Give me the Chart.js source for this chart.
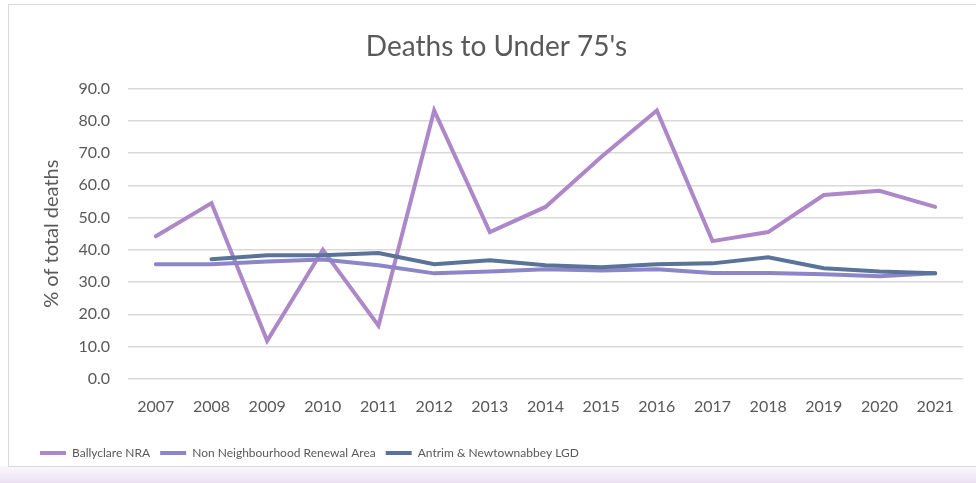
<!DOCTYPE html>
<html>
<head>
<meta charset="utf-8">
<script src="https://cdn.jsdelivr.net/npm/chart.js@4/dist/chart.umd.min.js"></script>
<style>
  html, body { margin: 0; padding: 0; background: #fff; }
  body { width: 976px; height: 483px; position: relative; overflow: hidden; }
  #frame {
    position: absolute; left: 8px; top: 4px; width: 980px; height: 461px;
    border: 1px solid #d9d9d9; background: #fff;
  }
  #shade {
    position: absolute; left: 0; top: 466px; width: 976px; height: 17px;
    background: linear-gradient(#fbf8fd, #ece1f3);
  }
  #wrap { position: absolute; left: 0; top: 0; width: 976px; height: 483px; }
</style>
</head>
<body>
<div id="shade"></div>
<div id="frame"></div>
<div id="wrap"><canvas id="myChart" width="976" height="483"></canvas></div>
<script>
var years = ['2007', '2008', '2009', '2010', '2011', '2012', '2013', '2014', '2015', '2016', '2017', '2018', '2019', '2020', '2021'];
var ballyclare = [44.2, 54.5, 11.8, 40.0, 16.5, 83.2, 45.5, 53.3, 68.8, 83.2, 42.7, 45.5, 57.0, 58.3, 53.3];
var nonNRA = [35.5, 35.5, 36.4, 37.0, 35.2, 32.7, 33.3, 34.0, 33.6, 34.0, 32.8, 32.8, 32.4, 31.8, 32.7];
var lgd = [null, 37.1, 38.3, 38.3, 39.0, 35.5, 36.8, 35.2, 34.6, 35.5, 35.8, 37.7, 34.3, 33.3, 32.7];

var textCol = '#595959';
var fontFam = 'Lato, "Noto Sans", sans-serif';

var ctx = document.getElementById('myChart');
var myChart = new Chart(ctx, {
  type: 'line',
  data: {
    labels: years,
    datasets: [{
      label: 'Ballyclare NRA',
      data: ballyclare,
      borderColor: '#ad87c8',
      backgroundColor: '#ad87c8',
      borderWidth: 4,
      pointRadius: 0,
      borderCapStyle: 'round',
      order: 3
    }, {
      label: 'Non Neighbourhood Renewal Area',
      data: nonNRA,
      borderColor: '#8c86c8',
      backgroundColor: '#8c86c8',
      borderWidth: 4,
      pointRadius: 0,
      borderCapStyle: 'round',
      order: 2
    }, {
      label: 'Antrim & Newtownabbey LGD',
      data: lgd,
      borderColor: '#5a7398',
      backgroundColor: '#5a7398',
      borderWidth: 4,
      pointRadius: 0,
      borderCapStyle: 'round',
      order: 1
    }]
  },
  options: {
    responsive: false,
    animation: false,
    layout: { padding: { left: 30, right: 13, top: 30, bottom: 14 } },
    plugins: {
      title: {
        display: true,
        text: "Deaths to Under 75's",
        color: textCol,
        font: { family: fontFam, size: 28, weight: 'normal' },
        padding: { top: 0, bottom: 25 }
      },
      legend: {
        position: 'bottom',
        align: 'start',
        labels: {
          usePointStyle: true,
          pointStyle: 'line',
          pointStyleWidth: 26,
          color: textCol,
          padding: 10,
          font: { family: fontFam, size: 12 },
          sort: function (a, b) { return a.datasetIndex - b.datasetIndex; }
        }
      },
      tooltip: { enabled: false }
    },
    scales: {
      x: {
        offset: true,
        grid: { display: false },
        border: { display: false },
        afterFit: function (scale) { scale.height += 11; },
        ticks: { color: textCol, font: { family: fontFam, size: 16 }, padding: 10 }
      },
      y: {
        min: 0,
        max: 90,
        afterFit: function (scale) { scale.width = 98; },
        grid: { color: '#d9d9d9', lineWidth: 1.5, drawTicks: false },
        border: { display: false },
        ticks: {
          stepSize: 10,
          color: textCol,
          padding: 18,
          font: { family: fontFam, size: 16 },
          callback: function (v) { return v.toFixed(1); }
        },
        title: {
          display: true,
          text: '% of total deaths',
          color: textCol,
          font: { family: fontFam, size: 20 },
          padding: { top: 10, bottom: 0 }
        }
      }
    }
  }
});
</script>
</body>
</html>
